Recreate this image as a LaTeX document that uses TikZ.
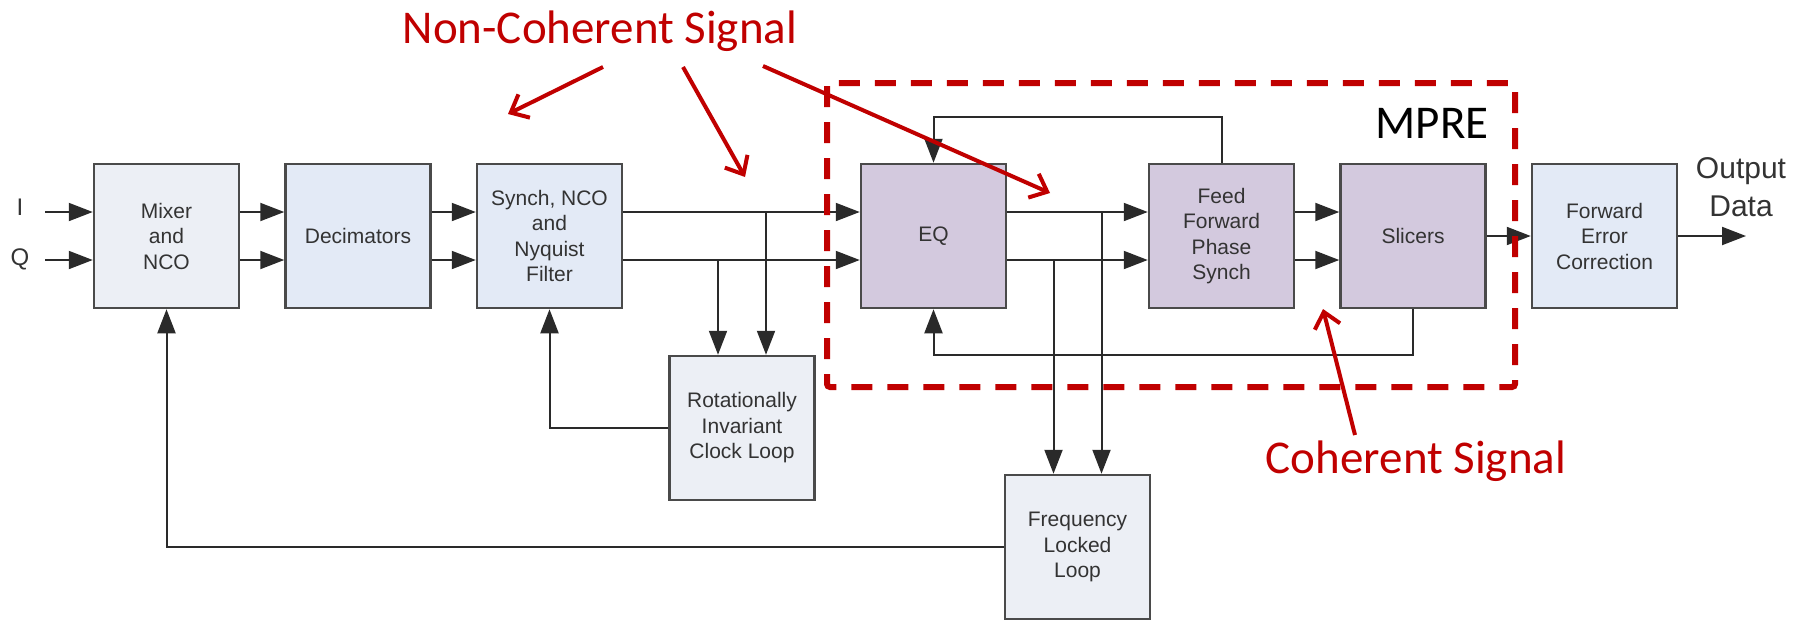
\documentclass[tikz,border=0pt]{standalone}
\usepackage{fontspec}
\setmainfont{Liberation Sans}
\newfontfamily\calib{Carlito}
\usetikzlibrary{arrows.meta}
\definecolor{rd}{HTML}{C00000}
\definecolor{linec}{HTML}{2A2A2A}
\definecolor{bordc}{HTML}{4A4A4A}
\definecolor{txtc}{HTML}{333333}
\definecolor{fgray}{HTML}{ECEFF5}
\definecolor{fblue}{HTML}{E3EAF6}
\definecolor{fpurp}{HTML}{D3C9DE}
\tikzset{
  blk/.style={draw=bordc, line width=2.5pt, minimum width=145pt, minimum height=144pt,
    align=center, text=txtc, font=\fontsize{21}{25.5}\selectfont, inner sep=0pt},
  arr/.style={draw=linec, line width=2pt, -{Triangle[length=24pt,width=18pt]}},
  rarr/.style={draw=rd, line width=4pt, -{Straight Barb[length=15pt,width=26pt]}},
  big/.style={text=rd, font=\calib\fontsize{47}{52}\selectfont, inner sep=0pt}
}
\begin{document}
\begin{tikzpicture}[x=1pt,y=-1pt]
\useasboundingbox (0,0) rectangle (1803,619);
% boxes
\node[blk, fill=fgray] (mix) at (166.5,236) {Mixer\\and\\NCO};
\node[blk, fill=fblue] (dec) at (358,236) {Decimators};
\node[blk, fill=fblue] (syn) at (549.5,236) {Synch, NCO\\and\\Nyquist\\Filter};
\node[blk, fill=fpurp] (eq) at (933.5,236) {EQ};
\node[blk, fill=fpurp] (ff) at (1221.5,236) {Feed\\Forward\\Phase\\Synch};
\node[blk, fill=fpurp] (sl) at (1413,236) {Slicers};
\node[blk, fill=fblue] (fec) at (1604.5,236) {Forward\\Error\\Correction};
\node[blk, fill=fgray] (rot) at (742,428) {Rotationally\\Invariant\\Clock Loop};
\node[blk, fill=fgray] (fll) at (1077.5,547) {Frequency\\Locked\\Loop};
% inputs
\node[font=\fontsize{24}{28}\selectfont, text=txtc] (lI) at (20,207) {I};
\node[font=\fontsize{24}{28}\selectfont, text=txtc] (lQ) at (20,259) {Q};
\coordinate (inI) at (45,212);
\coordinate (inQ) at (45,260);
\draw[arr] (inI) -- (inI -| mix.west);
\draw[arr] (inQ) -- (inQ -| mix.west);
% chain helper coordinates
\foreach \n in {mix,dec,syn,eq,ff,sl}{
  \coordinate (\n I) at ([yshift=24pt]\n.east);
  \coordinate (\n Q) at ([yshift=-24pt]\n.east);
}
\draw[arr] (mixI) -- (mixI -| dec.west);
\draw[arr] (mixQ) -- (mixQ -| dec.west);
\draw[arr] (decI) -- (decI -| syn.west);
\draw[arr] (decQ) -- (decQ -| syn.west);
\draw[arr] (synI) -- (synI -| eq.west);
\draw[arr] (synQ) -- (synQ -| eq.west);
\draw[arr] (eqI) -- (eqI -| ff.west);
\draw[arr] (eqQ) -- (eqQ -| ff.west);
\draw[arr] (ffI) -- (ffI -| sl.west);
\draw[arr] (ffQ) -- (ffQ -| sl.west);
\draw[arr] (sl.east) -- (fec.west);
\coordinate (outD) at (1746,236);
\draw[arr] (fec.east) -- (outD);
\node[font=\fontsize{30}{38}\selectfont, text=txtc, align=center, inner sep=0pt] (outl) at (1741,187) {Output\\Data};
% taps to rotationally invariant clock loop
\coordinate (rotA) at ([xshift=-24pt]rot.north);
\coordinate (rotB) at ([xshift=24pt]rot.north);
\draw[arr] (rotA |- synQ) -- (rotA);
\draw[arr] (rotB |- synI) -- (rotB);
% taps to FLL
\coordinate (fllA) at ([xshift=-24pt]fll.north);
\coordinate (fllB) at ([xshift=24pt]fll.north);
\draw[arr] (fllA |- eqQ) -- (fllA);
\draw[arr] (fllB |- eqI) -- (fllB);
% feedback loops
\coordinate (fbtop) at (0,117);
\coordinate (fbbot) at (0,355);
\draw[arr] (ff.north) |- (eq.north |- fbtop) -- (eq.north);
\draw[arr] (sl.south) |- (eq.south |- fbbot) -- (eq.south);
\draw[arr] (rot.west) -| (syn.south);
\draw[arr] (fll.west) -| (mix.south);
% MPRE dashed region
\draw[draw=rd, line width=6pt, dash pattern=on 21pt off 15pt, rounded corners=3pt] (827,83) rectangle (1515,387);
\node[font=\calib\fontsize{47}{52}\selectfont, anchor=base, inner sep=0pt] (mpre) at (1432,138) {MPRE};
% annotations
\node[big, anchor=base] (nc) at (600,43) {Non-Coherent Signal};
\node[big, anchor=base] (cs) at (1416,473) {Coherent Signal};
\coordinate (t1) at (603,67);  \coordinate (h1) at (508,114);
\coordinate (t2) at (683,67);  \coordinate (h2) at (745,177);
\coordinate (t3) at (763,66);  \coordinate (h3) at (1050,193);
\coordinate (t4) at (1355,435); \coordinate (h4) at (1323,309);
\draw[rarr] (t1) -- (h1);
\draw[rarr] (t2) -- (h2);
\draw[rarr] (t3) -- (h3);
\draw[rarr] (t4) -- (h4);
\end{tikzpicture}
\end{document}
